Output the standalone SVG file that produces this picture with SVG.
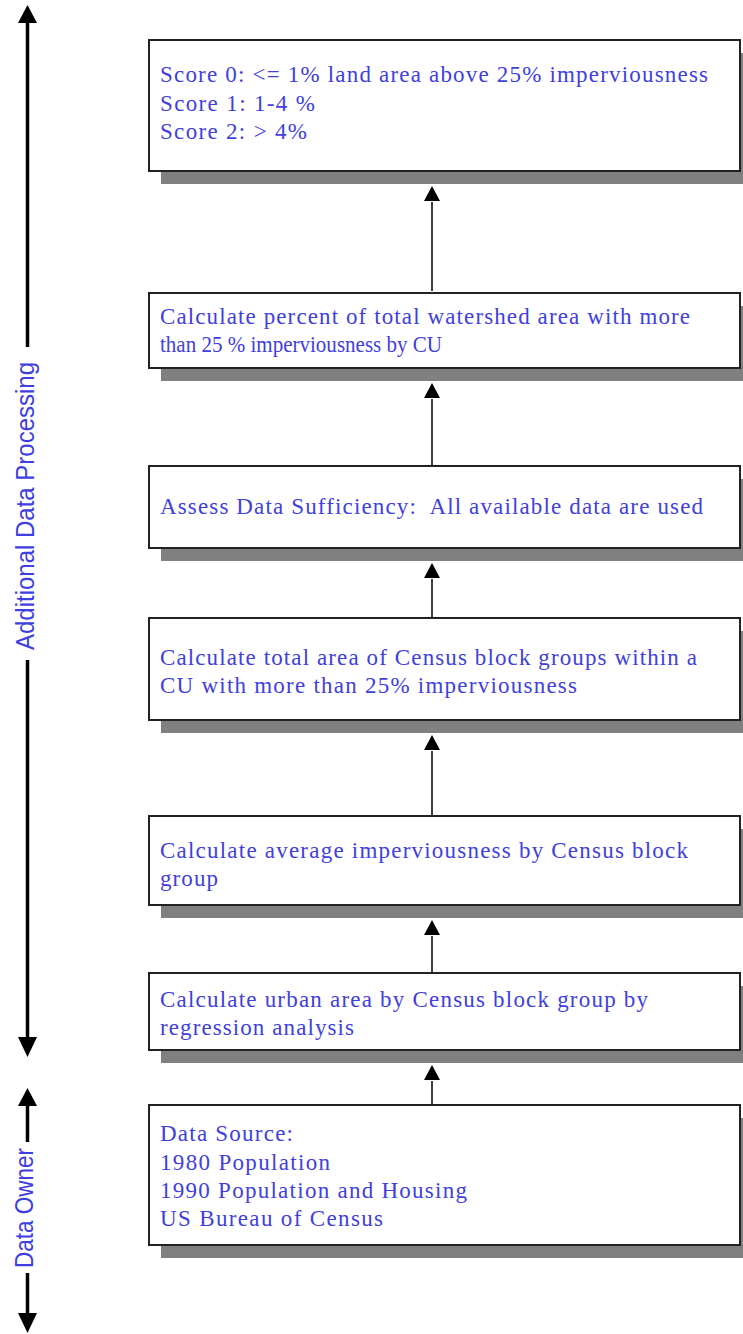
<svg xmlns="http://www.w3.org/2000/svg" width="743" height="1334" viewBox="0 0 743 1334">
<style>
.shadow{fill:#808080;stroke:none}
.box{fill:#ffffff;stroke:#222222;stroke-width:2}
.t{font-family:"Liberation Serif","Times New Roman",serif;font-size:23px;fill:#4040e0}
.side{font-family:"Liberation Sans",Arial,sans-serif;font-size:26px;fill:#4040e0}
.conn{stroke:#000;stroke-width:1.5;fill:none}
.axis{stroke:#000;stroke-width:3.5;fill:none}
</style>
<rect width="743" height="1334" fill="#ffffff"/>

<g id="axis">
<path class="axis" d="M27.5,22 V347"/>
<polygon points="27.5,5 18,23 37,23" fill="#000"/>
<path class="axis" d="M27.5,660 V1038"/>
<polygon points="27.5,1057 18,1037 37,1037" fill="#000"/>
<text class="side" transform="translate(34,650) rotate(-90)" textLength="288" lengthAdjust="spacingAndGlyphs">Additional Data Processing</text>
<polygon points="27.5,1088 18,1106 37,1106" fill="#000"/>
<path class="axis" d="M27.5,1104 V1142"/>
<text class="side" transform="translate(33,1268) rotate(-90)" textLength="120" lengthAdjust="spacingAndGlyphs">Data Owner</text>
<path class="axis" d="M27.5,1273 V1314"/>
<polygon points="27.5,1333 18,1313 37,1313" fill="#000"/>
</g>

<g id="connectors">
<path class="conn" d="M432,291 V202"/>
<polygon points="432,186 424,201 440,201" fill="#000"/>
<path class="conn" d="M432,466 V399"/>
<polygon points="432,383 424,398 440,398" fill="#000"/>
<path class="conn" d="M432,618 V579"/>
<polygon points="432,563 424,578 440,578" fill="#000"/>
<path class="conn" d="M432,816 V751"/>
<polygon points="432,735 424,750 440,750" fill="#000"/>
<path class="conn" d="M432,973 V936"/>
<polygon points="432,920 424,935 440,935" fill="#000"/>
<path class="conn" d="M432,1105 V1081"/>
<polygon points="432,1065 424,1080 440,1080" fill="#000"/>
</g>

<g id="node1">
<rect class="shadow" x="161" y="53" width="591" height="131"/>
<rect class="box" x="149" y="40" width="591" height="131"/>
<text class="t" x="160" y="82" textLength="548" lengthAdjust="spacing">Score 0: &lt;= 1% land area above 25% imperviousness</text>
<text class="t" x="160" y="111" textLength="155" lengthAdjust="spacing">Score 1: 1-4 %</text>
<text class="t" x="160" y="139" textLength="147" lengthAdjust="spacing">Score 2: &gt; 4%</text>
</g>

<g id="node2">
<rect class="shadow" x="161" y="306" width="591" height="75"/>
<rect class="box" x="149" y="293" width="591" height="75"/>
<text class="t" x="160" y="324" textLength="530" lengthAdjust="spacing">Calculate percent of total watershed area with more</text>
<text class="t" x="160" y="352" textLength="282" lengthAdjust="spacingAndGlyphs">than 25 % imperviousness by CU</text>
</g>

<g id="node3">
<rect class="shadow" x="161" y="479" width="591" height="82"/>
<rect class="box" x="149" y="466" width="591" height="82"/>
<text class="t" x="160" y="514" textLength="543" lengthAdjust="spacing" xml:space="preserve">Assess Data Sufficiency:  All available data are used</text>
</g>

<g id="node4">
<rect class="shadow" x="161" y="631" width="591" height="102"/>
<rect class="box" x="149" y="618" width="591" height="102"/>
<text class="t" x="160" y="665" textLength="537" lengthAdjust="spacing">Calculate total area of Census block groups within a</text>
<text class="t" x="160" y="693" textLength="417" lengthAdjust="spacing">CU with more than 25% imperviousness</text>
</g>

<g id="node5">
<rect class="shadow" x="161" y="829" width="591" height="89"/>
<rect class="box" x="149" y="816" width="591" height="89"/>
<text class="t" x="160" y="858" textLength="528" lengthAdjust="spacing">Calculate average imperviousness by Census block</text>
<text class="t" x="160" y="886" textLength="58" lengthAdjust="spacing">group</text>
</g>

<g id="node6">
<rect class="shadow" x="161" y="986" width="591" height="77"/>
<rect class="box" x="149" y="973" width="591" height="77"/>
<text class="t" x="160" y="1007" textLength="488" lengthAdjust="spacing">Calculate urban area by Census block group by</text>
<text class="t" x="160" y="1035" textLength="194" lengthAdjust="spacing">regression analysis</text>
</g>

<g id="node7">
<rect class="shadow" x="161" y="1118" width="591" height="140"/>
<rect class="box" x="149" y="1105" width="591" height="140"/>
<text class="t" x="160" y="1141" textLength="133" lengthAdjust="spacing">Data Source:</text>
<text class="t" x="160" y="1170" textLength="170" lengthAdjust="spacing">1980 Population</text>
<text class="t" x="160" y="1198" textLength="307" lengthAdjust="spacing">1990 Population and Housing</text>
<text class="t" x="160" y="1226" textLength="223" lengthAdjust="spacing">US Bureau of Census</text>
</g>
</svg>
